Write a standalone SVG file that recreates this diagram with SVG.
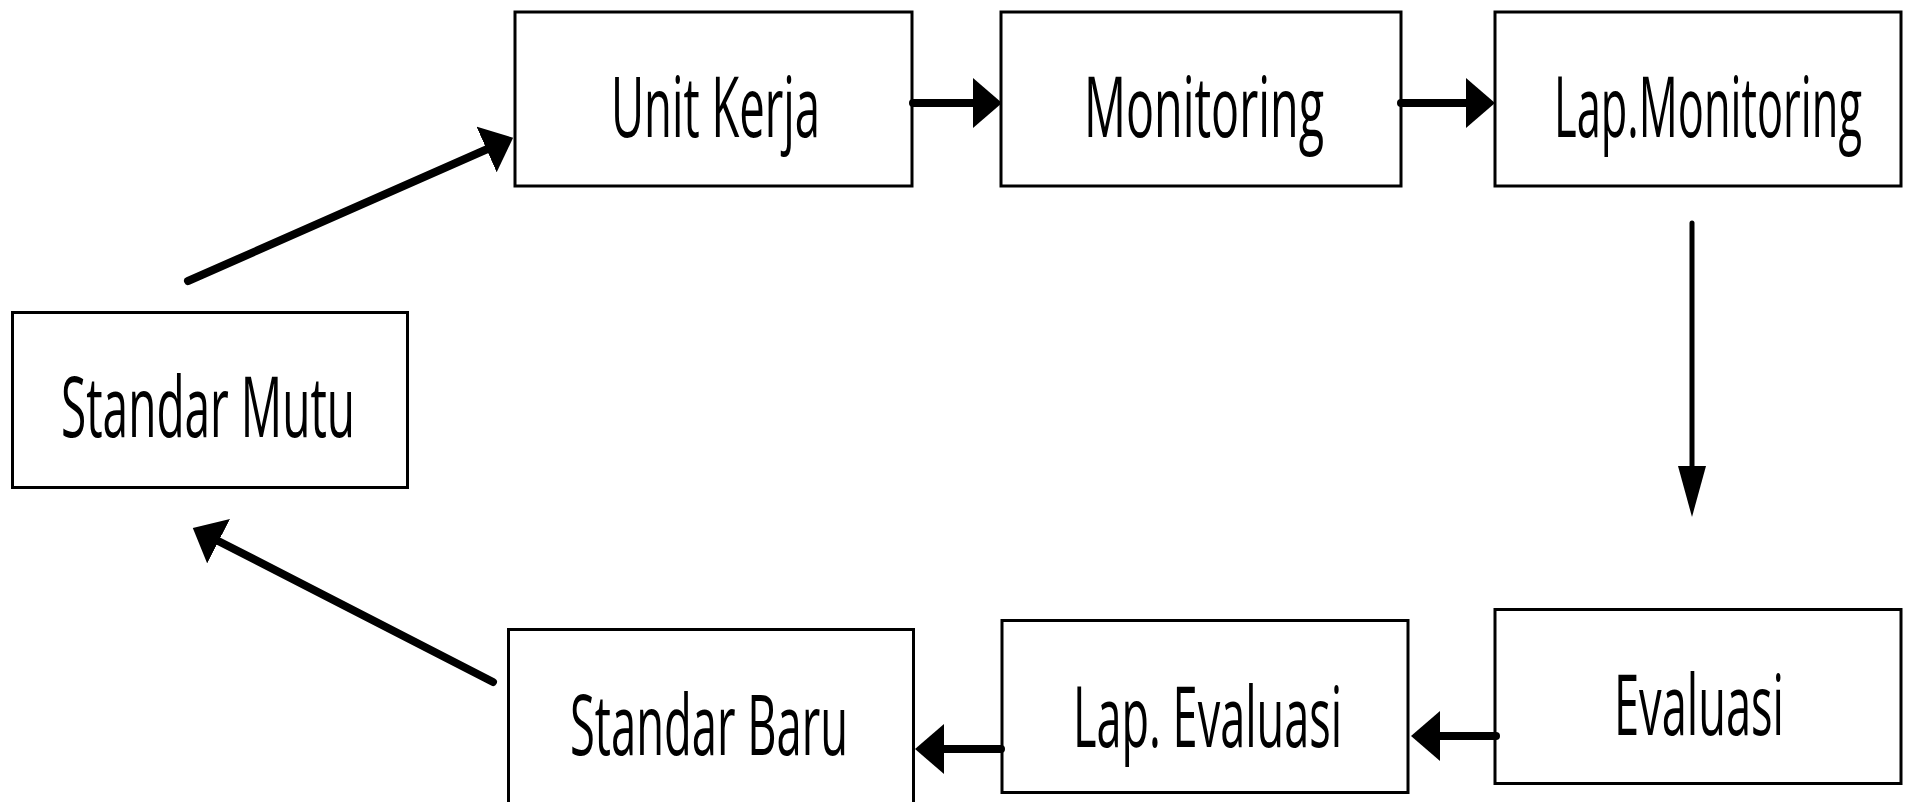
<svg xmlns="http://www.w3.org/2000/svg" width="1910" height="802" viewBox="0 0 1910 802">
  <style>
    .box { fill: #ffffff; stroke: #000000; stroke-width: 3; }
    .lbl { font-family: "Open Sans", "Noto Sans", "Liberation Sans", sans-serif; font-size: 84px; fill: #000000; text-anchor: middle; }
    .thick { stroke: #000000; stroke-width: 8; stroke-linecap: round; fill: none; marker-end: url(#wide); }
    .thin { stroke: #000000; stroke-width: 5; stroke-linecap: round; fill: none; marker-end: url(#narrow); }
  </style>
  <defs>
    <marker id="wide" markerUnits="userSpaceOnUse" viewBox="0 -25 29 50" markerWidth="29" markerHeight="50" refX="1" refY="0" orient="auto">
      <path d="M0,-25 L29,0 L0,25 z" fill="#000000"/>
    </marker>
    <marker id="narrow" markerUnits="userSpaceOnUse" viewBox="0 -14 51 28" markerWidth="51" markerHeight="28" refX="1" refY="0" orient="auto">
      <path d="M0,-14 L51,0 L0,14 z" fill="#000000"/>
    </marker>
  </defs>
  <rect width="1910" height="802" fill="#ffffff"/>

  <g id="node-unit-kerja">
    <rect class="box" x="515" y="12" width="397" height="174"/>
    <text class="lbl" x="715.5" y="137" textLength="209" lengthAdjust="spacingAndGlyphs">Unit Kerja</text>
  </g>
  <g id="node-monitoring">
    <rect class="box" x="1001" y="12" width="400" height="174"/>
    <text class="lbl" x="1204" y="137" textLength="240" lengthAdjust="spacingAndGlyphs">Monitoring</text>
  </g>
  <g id="node-lap-monitoring">
    <rect class="box" x="1495" y="12" width="406" height="174"/>
    <text class="lbl" x="1708" y="137" textLength="308" lengthAdjust="spacingAndGlyphs">Lap.Monitoring</text>
  </g>
  <g id="node-standar-mutu">
    <rect class="box" x="12.5" y="312.5" width="395" height="175"/>
    <text class="lbl" x="208" y="437" textLength="294" lengthAdjust="spacingAndGlyphs">Standar Mutu</text>
  </g>
  <g id="node-evaluasi">
    <rect class="box" x="1495" y="609.5" width="406" height="174"/>
    <text class="lbl" x="1699" y="735" textLength="170" lengthAdjust="spacingAndGlyphs">Evaluasi</text>
  </g>
  <g id="node-lap-evaluasi">
    <rect class="box" x="1002" y="620.5" width="406" height="172"/>
    <text class="lbl" x="1207.5" y="747" textLength="269" lengthAdjust="spacingAndGlyphs">Lap. Evaluasi</text>
  </g>
  <g id="node-standar-baru">
    <rect class="box" x="508.5" y="629.5" width="405" height="200"/>
    <text class="lbl" x="709" y="755" textLength="278" lengthAdjust="spacingAndGlyphs">Standar Baru</text>
  </g>

  <g id="connectors">
    <line class="thick" x1="188" y1="281" x2="487.5" y2="149"/>
    <line class="thick" x1="913" y1="103" x2="974" y2="103"/>
    <line class="thick" x1="1401" y1="103" x2="1467" y2="103"/>
    <line class="thin" x1="1692" y1="223" x2="1692" y2="467"/>
    <line class="thick" x1="1496" y1="736" x2="1439" y2="736"/>
    <line class="thick" x1="1001" y1="749" x2="943" y2="749"/>
    <line class="thick" x1="493" y1="682" x2="217.7" y2="540.7"/>
  </g>
</svg>
